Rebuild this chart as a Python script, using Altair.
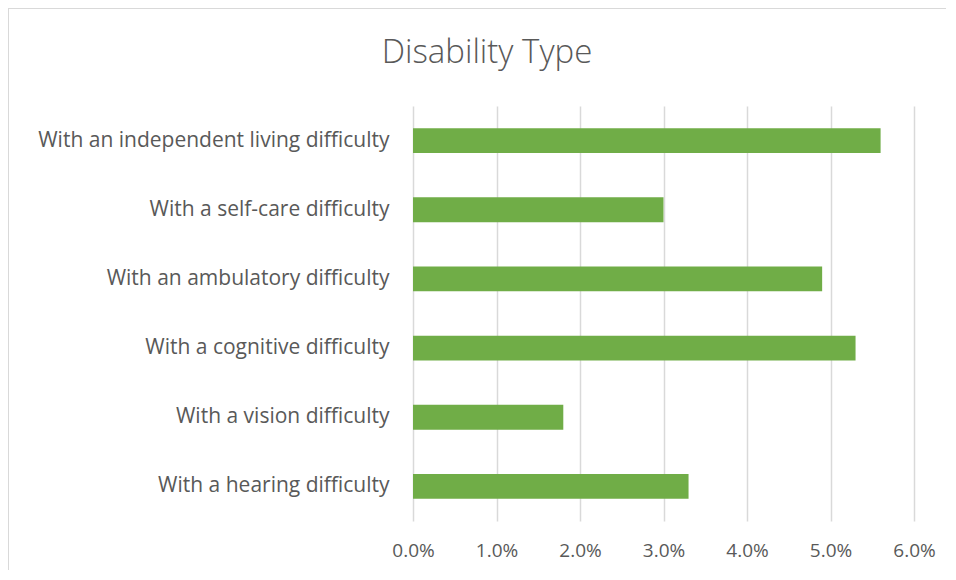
import altair as alt
import pandas as pd

categories = [
    "With an independent living difficulty",
    "With a self-care difficulty",
    "With an ambulatory difficulty",
    "With a cognitive difficulty",
    "With a vision difficulty",
    "With a hearing difficulty",
]
values = [0.056, 0.030, 0.049, 0.053, 0.018, 0.033]
tick_values = [0.0, 0.01, 0.02, 0.03, 0.04, 0.05, 0.06]
chart_title = "Disability Type"

df = pd.DataFrame({"category": categories, "value": values})
title_df = pd.DataFrame({"t": [chart_title]})
border_df = pd.DataFrame({"b": [1]})

FONT = "Open Sans"
GREY = "#595959"

bars = alt.Chart(df).mark_bar(color="#70ad47").encode(
    x=alt.X(
        "value:Q",
        scale=alt.Scale(domain=[0, 0.06], nice=False),
        axis=alt.Axis(
            values=tick_values,
            format=".1%",
            title=None,
            grid=True,
            gridColor="#d9d9d9",
            gridWidth=1.5,
            domain=False,
            ticks=False,
            labelFlush=False,
            labelFont=FONT,
            labelFontSize=19,
            labelColor=GREY,
            labelPadding=20,
        ),
    ),
    y=alt.Y(
        "category:N",
        sort=categories,
        scale=alt.Scale(paddingInner=0.64, paddingOuter=0.32),
        axis=alt.Axis(
            title=None,
            domain=False,
            ticks=False,
            grid=False,
            labelFont=FONT,
            labelFontSize=21,
            labelColor=GREY,
            labelPadding=24,
            labelLimit=600,
        ),
    ),
)

border_top = alt.Chart(border_df).mark_rule(
    color="#d9d9d9", strokeWidth=1, clip=False
).encode(
    x=alt.value(-405),
    x2=alt.value(560),
    y=alt.value(-97.5),
)

border_left = alt.Chart(border_df).mark_rule(
    color="#d9d9d9", strokeWidth=1, clip=False
).encode(
    x=alt.value(-404.5),
    y=alt.value(-98),
    y2=alt.value(470),
)

title = alt.Chart(title_df).mark_text(
    font=FONT,
    fontSize=33,
    fontWeight=300,
    color=GREY,
    align="center",
    baseline="alphabetic",
).encode(
    text="t:N",
    x=alt.value(74),
    y=alt.value(-43),
)

chart = alt.layer(border_top, border_left, bars, title).properties(
    width=501,
    height=415,
    autosize=alt.AutoSizeParams(type="none"),
    padding={"left": 405, "top": 98, "right": 32, "bottom": 49},
).configure(
    background="white",
    view=alt.ViewConfig(stroke="transparent", strokeWidth=0),
)

chart.save("out.html", embed_options={"renderer": "svg", "actions": False})
